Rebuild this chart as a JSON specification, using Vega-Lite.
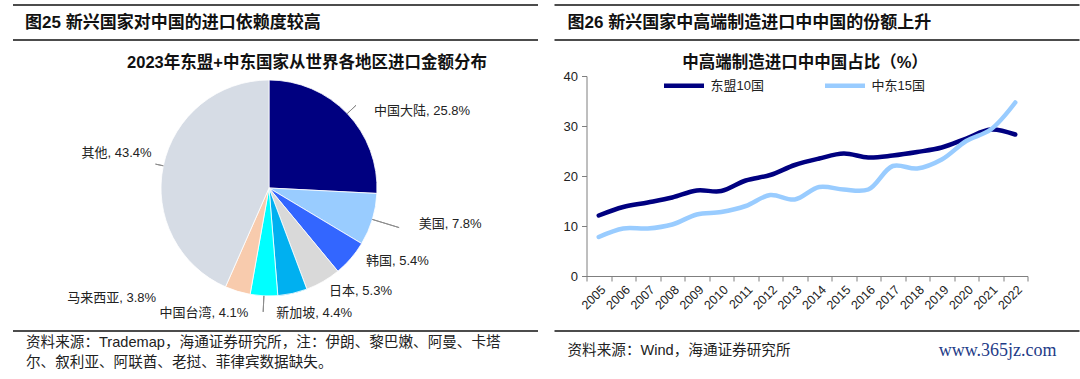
{
  "$schema": "https://vega.github.io/schema/vega-lite/v6.json",
  "padding": {"left": 12, "top": 4, "right": 0, "bottom": 0},
  "background": "white",
  "config": {
    "font": "Liberation Sans, 'Noto Sans CJK SC', sans-serif",
    "view": {"stroke": null}
  },
  "spacing": 14.5,
  "resolve": {"scale": {"color": "independent"}, "legend": {"color": "independent"}},
  "hconcat": [
    {
      "bounds": "flush",
      "spacing": 31,
      "resolve": {"scale": {"color": "independent"}, "legend": {"color": "independent"}},
      "vconcat": [
        {
          "width": 525, "height": 39.25,
          "data": {"values": [{"t": "图25 新兴国家对中国的进口依赖度较高"}]},
          "layer": [
            {"mark": {"type": "rule", "color": "#111", "strokeWidth": 1.5}, "encoding": {"y": {"datum": 1, "type": "quantitative", "scale": {"domain": [0, 1]}, "axis": null}}},
            {"mark": {"type": "rule", "color": "#111", "strokeWidth": 1.5}, "encoding": {"y": {"datum": 0.1083, "type": "quantitative", "scale": {"domain": [0, 1]}, "axis": null}}},
            {"mark": {"type": "text", "align": "left", "baseline": "middle", "fontSize": 17, "fontWeight": "bold", "color": "#111", "dx": 12},
             "encoding": {"text": {"field": "t"}, "x": {"datum": 0, "type": "quantitative", "scale": {"domain": [0, 1]}, "axis": null}, "y": {"datum": 0.5414, "type": "quantitative", "scale": {"domain": [0, 1]}, "axis": null}}}
          ]
        },
        {
          "width": 512, "height": 224,
          "title": {"text": "2023年东盟+中东国家从世界各地区进口金额分布", "fontSize": 16.5, "fontWeight": "bold", "color": "#111", "anchor": "middle", "baseline": "middle", "offset": -3, "dx": 38},
          "data": {"values": [
            {"name": "中国大陆", "share": 25.8, "idx": 1, "label": "中国大陆, 25.8%"},
            {"name": "美国", "share": 7.8, "idx": 2, "label": "美国, 7.8%"},
            {"name": "韩国", "share": 5.4, "idx": 3, "label": "韩国, 5.4%"},
            {"name": "日本", "share": 5.3, "idx": 4, "label": "日本, 5.3%"},
            {"name": "新加坡", "share": 4.4, "idx": 5, "label": "新加坡, 4.4%"},
            {"name": "中国台湾", "share": 4.1, "idx": 6, "label": "中国台湾, 4.1%"},
            {"name": "马来西亚", "share": 3.8, "idx": 7, "label": "马来西亚, 3.8%"},
            {"name": "其他", "share": 43.4, "idx": 8, "label": "其他, 43.4%"}
          ]},
          "layer": [
            {
              "mark": {"type": "arc", "outerRadius": 108, "stroke": "white", "strokeWidth": 0.8},
              "encoding": {
                "theta": {"field": "share", "type": "quantitative", "stack": true},
                "order": {"field": "idx", "type": "quantitative"},
                "color": {"field": "name", "type": "nominal", "legend": null,
                  "scale": {"domain": ["中国大陆", "美国", "韩国", "日本", "新加坡", "中国台湾", "马来西亚", "其他"],
                            "range": ["#000080", "#99CCFF", "#3366FF", "#D9D9D9", "#00B0F0", "#00FFFF", "#F8CBAD", "#D6DCE5"]}}
              }
            },
            {
              "transform": [
                {"stack": "share", "groupby": [], "sort": [{"field": "idx", "order": "ascending"}], "as": ["s0", "s1"]},
                {"filter": {"field": "name", "oneOf": ["中国大陆", "美国", "其他", "中国台湾"]}}
              ],
              "mark": {"type": "arc", "filled": false, "color": "#8c8c8c", "strokeWidth": 1,
                "theta": {"expr": "PI*(datum.s0+datum.s1)/100"},
                "theta2": {"expr": "PI*(datum.s0+datum.s1)/100"},
                "radius": {"expr": "datum.name==='美国'?136:datum.name==='中国台湾'?124:datum.name==='其他'?116:120"},
                "radius2": 108},
              "encoding": {}
            },
            {
              "mark": {"type": "text", "radius": 120, "fontSize": 13, "baseline": "middle", "color": "#222",
                "align": {"expr": "(datum.name==='中国台湾'||datum.name==='马来西亚'||datum.name==='其他')?'right':'left'"},
                "dx": {"expr": "datum.name==='中国大陆'?18:datum.name==='美国'?35:datum.name==='韩国'?6:datum.name==='新加坡'?-19:datum.name==='中国台湾'?-15:datum.name==='马来西亚'?-78:0"},
                "dy": {"expr": "datum.name==='中国大陆'?6:datum.name==='美国'?1:datum.name==='韩国'?-5:datum.name==='日本'?-1:datum.name==='新加坡'?8:datum.name==='中国台湾'?5:datum.name==='马来西亚'?-5:-10"}},
              "encoding": {
                "theta": {"field": "share", "type": "quantitative", "stack": true},
                "order": {"field": "idx", "type": "quantitative"},
                "text": {"field": "label", "type": "nominal"}
              }
            }
          ]
        },
        {
          "width": 525, "height": 45,
          "data": {"values": [{"t": "资料来源：Trademap，海通证券研究所，注：伊朗、黎巴嫩、阿曼、卡塔\n尔、叙利亚、阿联酋、老挝、菲律宾数据缺失。"}]},
          "layer": [
            {"mark": {"type": "rule", "color": "#111", "strokeWidth": 1.5}, "encoding": {"y": {"datum": 1, "type": "quantitative", "scale": {"domain": [0, 1]}, "axis": null}}},
            {"mark": {"type": "text", "align": "left", "baseline": "middle", "fontSize": 14.6, "color": "#222", "dx": 13, "lineBreak": "\n", "lineHeight": 20},
             "encoding": {"text": {"field": "t"}, "x": {"datum": 0, "type": "quantitative", "scale": {"domain": [0, 1]}, "axis": null}, "y": {"datum": 0.74, "type": "quantitative", "scale": {"domain": [0, 1]}, "axis": null}}}
          ]
        }
      ]
    },
    {
      "bounds": "flush",
      "spacing": 31,
      "center": true,
      "resolve": {"scale": {"color": "independent"}, "legend": {"color": "independent"}},
      "vconcat": [
        {
          "width": 525, "height": 39.25,
          "data": {"values": [{"t": "图26 新兴国家中高端制造进口中中国的份额上升"}]},
          "layer": [
            {"mark": {"type": "rule", "color": "#111", "strokeWidth": 1.5}, "encoding": {"y": {"datum": 1, "type": "quantitative", "scale": {"domain": [0, 1]}, "axis": null}}},
            {"mark": {"type": "rule", "color": "#111", "strokeWidth": 1.5}, "encoding": {"y": {"datum": 0.1083, "type": "quantitative", "scale": {"domain": [0, 1]}, "axis": null}}},
            {"mark": {"type": "text", "align": "left", "baseline": "middle", "fontSize": 17, "fontWeight": "bold", "color": "#111", "dx": 13},
             "encoding": {"text": {"field": "t"}, "x": {"datum": 0, "type": "quantitative", "scale": {"domain": [0, 1]}, "axis": null}, "y": {"datum": 0.5414, "type": "quantitative", "scale": {"domain": [0, 1]}, "axis": null}}}
          ]
        },
        {
          "width": 461, "height": 200,
          "title": {"text": "中高端制造进口中中国占比（%）", "fontSize": 16.5, "fontWeight": "bold", "color": "#111", "anchor": "middle", "baseline": "middle", "offset": -16, "dx": -12},
          "data": {"values": [
            {"year": "2005", "series": "东盟10国", "value": 12.1},
            {"year": "2006", "series": "东盟10国", "value": 13.8},
            {"year": "2007", "series": "东盟10国", "value": 14.7},
            {"year": "2008", "series": "东盟10国", "value": 15.7},
            {"year": "2009", "series": "东盟10国", "value": 17.1},
            {"year": "2010", "series": "东盟10国", "value": 17.0},
            {"year": "2011", "series": "东盟10国", "value": 19.1},
            {"year": "2012", "series": "东盟10国", "value": 20.2},
            {"year": "2013", "series": "东盟10国", "value": 22.2},
            {"year": "2014", "series": "东盟10国", "value": 23.5},
            {"year": "2015", "series": "东盟10国", "value": 24.5},
            {"year": "2016", "series": "东盟10国", "value": 23.7},
            {"year": "2017", "series": "东盟10国", "value": 24.1},
            {"year": "2018", "series": "东盟10国", "value": 24.8},
            {"year": "2019", "series": "东盟10国", "value": 25.7},
            {"year": "2020", "series": "东盟10国", "value": 27.5},
            {"year": "2021", "series": "东盟10国", "value": 29.3},
            {"year": "2022", "series": "东盟10国", "value": 28.3},
            {"year": "2005", "series": "中东15国", "value": 7.8},
            {"year": "2006", "series": "中东15国", "value": 9.5},
            {"year": "2007", "series": "中东15国", "value": 9.5},
            {"year": "2008", "series": "中东15国", "value": 10.3},
            {"year": "2009", "series": "中东15国", "value": 12.3},
            {"year": "2010", "series": "中东15国", "value": 12.8},
            {"year": "2011", "series": "中东15国", "value": 14.0},
            {"year": "2012", "series": "中东15国", "value": 16.2},
            {"year": "2013", "series": "中东15国", "value": 15.3},
            {"year": "2014", "series": "中东15国", "value": 17.8},
            {"year": "2015", "series": "中东15国", "value": 17.3},
            {"year": "2016", "series": "中东15国", "value": 17.3},
            {"year": "2017", "series": "中东15国", "value": 22.0},
            {"year": "2018", "series": "中东15国", "value": 21.5},
            {"year": "2019", "series": "中东15国", "value": 23.3},
            {"year": "2020", "series": "中东15国", "value": 27.0},
            {"year": "2021", "series": "中东15国", "value": 29.3},
            {"year": "2022", "series": "中东15国", "value": 34.7}
          ]},
          "mark": {"type": "line", "strokeWidth": 4.5, "interpolate": "catmull-rom", "strokeCap": "round"},
          "encoding": {
            "x": {"field": "year", "type": "ordinal", "bandPosition": 0.5,
              "scale": {"type": "band", "paddingInner": 0, "paddingOuter": 0, "range": [0, 441]},
              "axis": {"title": null, "tickBand": "extent", "labelAngle": -45, "labelFontSize": 12.5, "labelColor": "#222", "domainColor": "#7f7f7f", "tickColor": "#7f7f7f", "tickSize": 5, "labelPadding": 2}},
            "y": {"field": "value", "type": "quantitative",
              "scale": {"domain": [0, 40]},
              "axis": {"title": null, "values": [0, 10, 20, 30, 40], "grid": false, "labelFontSize": 13, "labelColor": "#222", "domainColor": "#7f7f7f", "tickColor": "#7f7f7f", "tickSize": 5, "labelPadding": 4}},
            "color": {"field": "series", "type": "nominal",
              "scale": {"domain": ["东盟10国", "中东15国"], "range": ["#000080", "#99CCFF"]},
              "legend": {"title": null, "orient": "none", "legendX": 75, "legendY": -13, "direction": "horizontal", "symbolType": "stroke", "symbolStrokeWidth": 4.5, "symbolSize": 1600, "labelFontSize": 13, "labelColor": "#222", "labelOffset": 4, "columnPadding": 51}},
            "order": {"field": "series", "sort": "descending"}
          }
        },
        {
          "width": 525, "height": 69,
          "data": {"values": [{"t": "资料来源：Wind，海通证券研究所", "w": "www.365jz.com"}]},
          "layer": [
            {"mark": {"type": "rule", "color": "#111", "strokeWidth": 1.5}, "encoding": {"y": {"datum": 0.6522, "type": "quantitative", "scale": {"domain": [0, 1]}, "axis": null}}},
            {"mark": {"type": "text", "align": "left", "baseline": "middle", "fontSize": 14.6, "color": "#222", "dx": 13},
             "encoding": {"text": {"field": "t"}, "x": {"datum": 0, "type": "quantitative", "scale": {"domain": [0, 1]}, "axis": null}, "y": {"datum": 0.3623, "type": "quantitative", "scale": {"domain": [0, 1]}, "axis": null}}},
            {"mark": {"type": "text", "align": "right", "baseline": "middle", "fontSize": 18, "font": "Liberation Serif", "color": "#1F3C88", "dx": -23},
             "encoding": {"text": {"field": "w"}, "x": {"datum": 1, "type": "quantitative", "scale": {"domain": [0, 1]}, "axis": null}, "y": {"datum": 0.3623, "type": "quantitative", "scale": {"domain": [0, 1]}, "axis": null}}}
          ]
        }
      ]
    }
  ]
}
